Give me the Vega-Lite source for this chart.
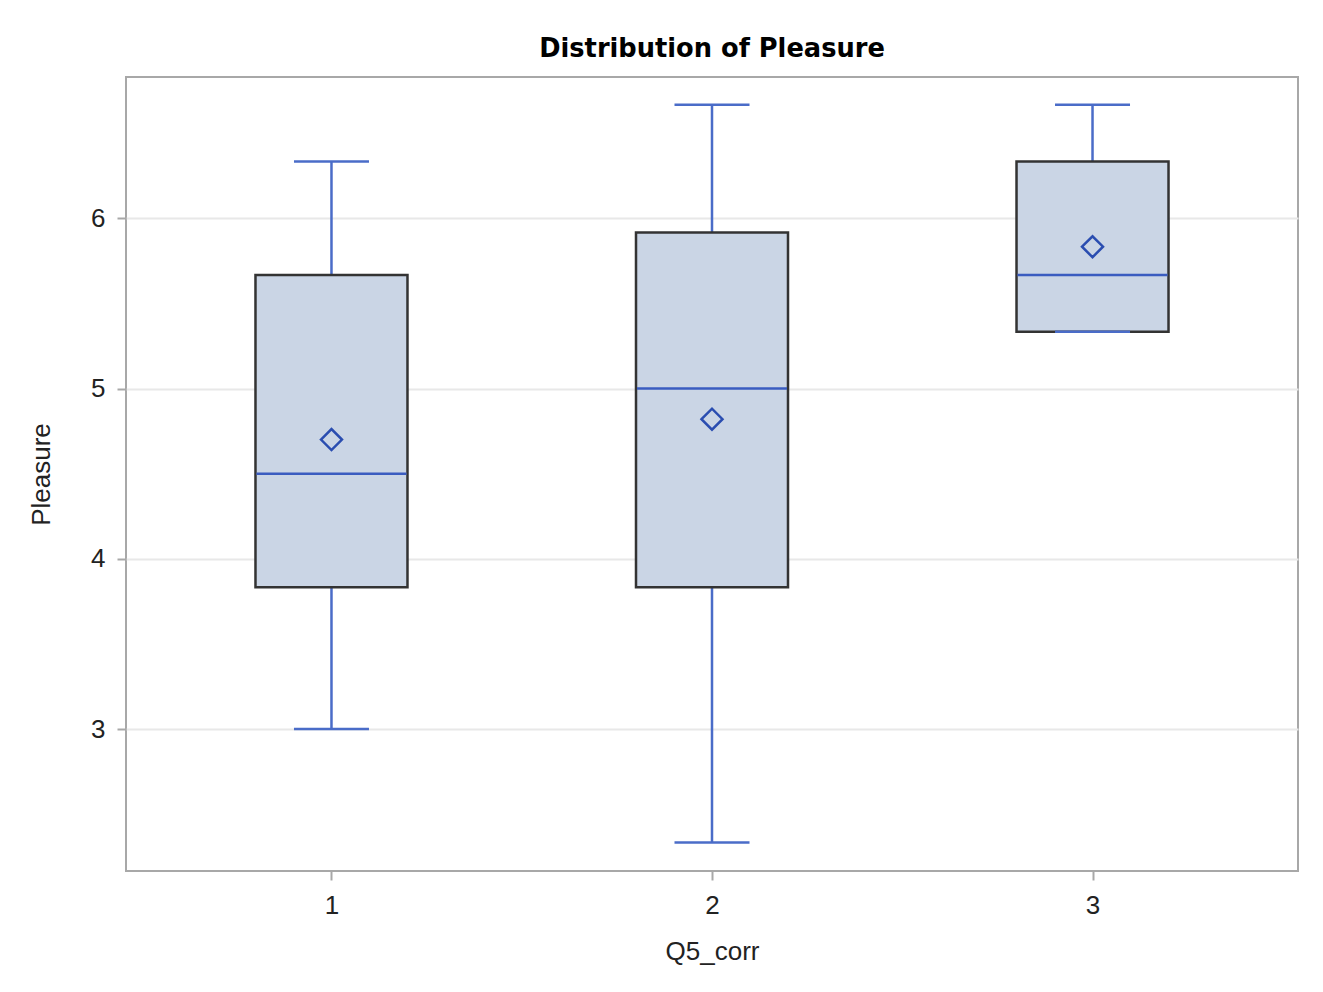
{
  "$schema": "https://vega.github.io/schema/vega-lite/v6.json",
  "autosize": "none",
  "width": 1172,
  "height": 794,
  "padding": {"left": 126, "top": 77, "right": 25, "bottom": 121},
  "background": "white",
  "title": {
    "text": "Distribution of Pleasure",
    "font": "DejaVu Sans",
    "fontSize": 25.7,
    "fontWeight": "bold",
    "color": "#000000",
    "offset": 14
  },
  "config": {
    "view": {"stroke": "#A8A8A8", "strokeWidth": 2},
    "axis": {
      "labelFont": "Liberation Sans",
      "titleFont": "Liberation Sans",
      "labelFontSize": 26,
      "titleFontSize": 26,
      "titleFontWeight": "normal",
      "labelColor": "#222222",
      "titleColor": "#222222",
      "tickColor": "#A8A8A8",
      "tickSize": 9,
      "tickWidth": 2,
      "domain": false
    }
  },
  "data": {
    "values": [
      {"g": "1", "low": 3.0, "q1": 3.833, "median": 4.5, "q3": 5.667, "high": 6.333, "mean": 4.7},
      {"g": "2", "low": 2.333, "q1": 3.833, "median": 5.0, "q3": 5.917, "high": 6.667, "mean": 4.82},
      {"g": "3", "low": 5.333, "q1": 5.333, "median": 5.667, "q3": 6.333, "high": 6.667, "mean": 5.833}
    ]
  },
  "encoding": {
    "x": {
      "field": "g",
      "type": "ordinal",
      "scale": {"type": "point", "padding": 0.54},
      "axis": {"title": "Q5_corr", "labelAngle": 0, "labelPadding": 12, "titlePadding": 20, "grid": false}
    }
  },
  "layer": [
    {
      "mark": {"type": "rule", "color": "#4A6CC8", "strokeWidth": 2.5},
      "encoding": {
        "y": {
          "field": "low",
          "type": "quantitative",
          "scale": {"domain": [2.166, 6.83], "nice": false, "zero": false},
          "axis": {"title": "Pleasure", "values": [3, 4, 5, 6], "format": "d", "grid": true, "gridColor": "#E8E8E8", "gridWidth": 2, "labelPadding": 12, "titlePadding": 36}
        },
        "y2": {"field": "high"}
      }
    },
    {
      "mark": {"type": "bar", "size": 152, "fill": "#CAD5E5", "stroke": "#333333", "strokeWidth": 2.5},
      "encoding": {
        "y": {"field": "q1", "type": "quantitative"},
        "y2": {"field": "q3"}
      }
    },
    {
      "mark": {"type": "tick", "size": 150, "thickness": 2.5, "color": "#3A5CC0", "opacity": 1},
      "encoding": {"y": {"field": "median", "type": "quantitative"}}
    },
    {
      "mark": {"type": "tick", "size": 75, "thickness": 2.5, "color": "#4A6CC8", "opacity": 1},
      "encoding": {"y": {"field": "low", "type": "quantitative"}}
    },
    {
      "mark": {"type": "tick", "size": 75, "thickness": 2.5, "color": "#4A6CC8", "opacity": 1},
      "encoding": {"y": {"field": "high", "type": "quantitative"}}
    },
    {
      "mark": {"type": "point", "shape": "diamond", "size": 440, "filled": false, "stroke": "#2A4DB0", "strokeWidth": 2.5, "opacity": 1},
      "encoding": {"y": {"field": "mean", "type": "quantitative"}}
    }
  ]
}
